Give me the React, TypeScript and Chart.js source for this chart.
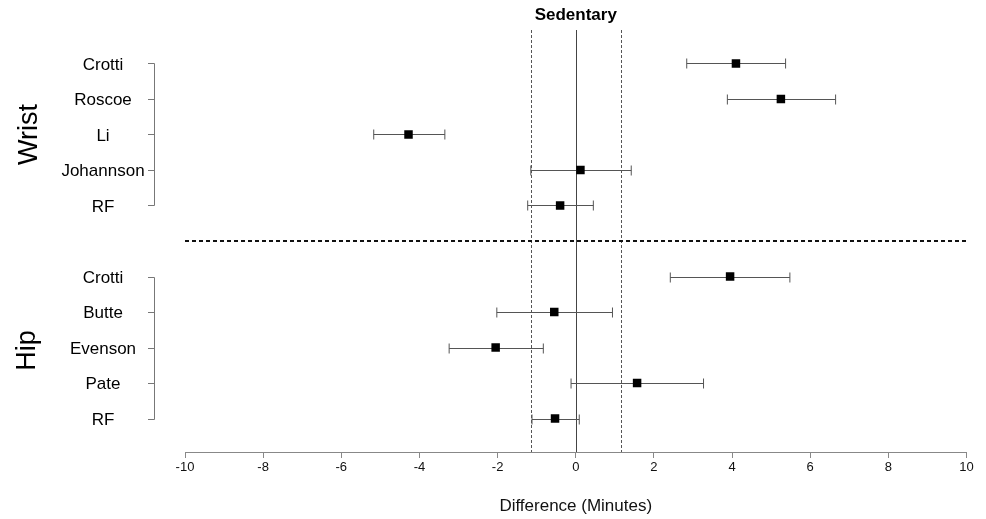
import React, { useEffect, useRef } from 'react';
import { Chart, registerables } from 'chart.js';

Chart.register(...registerables);

// ---- data ----
const chartTitle = 'Sedentary';
const xTitle = 'Difference (Minutes)';
const groupLabels = ['Wrist', 'Hip'];

const wristStudies = ['Crotti', 'Roscoe', 'Li', 'Johannson', 'RF'];
const wristEst = [4.1, 5.25, -4.28, 0.12, -0.4];
const wristLower = [2.84, 3.88, -5.17, -1.15, -1.23];
const wristUpper = [5.37, 6.65, -3.35, 1.42, 0.45];
const wristRows = [11, 10, 9, 8, 7];

const hipStudies = ['Crotti', 'Butte', 'Evenson', 'Pate', 'RF'];
const hipEst = [3.95, -0.55, -2.05, 1.57, -0.53];
const hipLower = [2.42, -2.02, -3.24, -0.12, -1.12];
const hipUpper = [5.48, 0.94, -0.83, 3.27, 0.09];
const hipRows = [5, 4, 3, 2, 1];

const separatorRow = 6;
const refLines = [-1.15, 1.15];
const xMin = -10;
const xMax = 10;
const xStep = 2;

const FONT = "'Liberation Sans', Arial, sans-serif";

const groups = [
  { label: groupLabels[0], studies: wristStudies, est: wristEst, lo: wristLower, hi: wristUpper, rows: wristRows, lx: 36.5, dy: 0 },
  { label: groupLabels[1], studies: hipStudies, est: hipEst, lo: hipLower, hi: hipUpper, rows: hipRows, lx: 34.5, dy: 3 },
];

const forestPlugin = {
  id: 'forest',
  beforeDatasetsDraw(chart: any) {
    const { ctx, chartArea, scales } = chart;
    const x = scales.x;
    const y = scales.y;
    ctx.save();
    // reference dashed lines
    ctx.strokeStyle = '#555';
    ctx.lineWidth = 1;
    ctx.setLineDash([3, 2]);
    refLines.forEach((v) => {
      const px = Math.round(x.getPixelForValue(v)) + 0.5;
      ctx.beginPath();
      ctx.moveTo(px, chartArea.top);
      ctx.lineTo(px, chartArea.bottom);
      ctx.stroke();
    });
    // zero line
    ctx.setLineDash([]);
    ctx.strokeStyle = '#444';
    const zx = Math.round(x.getPixelForValue(0)) + 0.5;
    ctx.beginPath();
    ctx.moveTo(zx, chartArea.top);
    ctx.lineTo(zx, chartArea.bottom);
    ctx.stroke();
    // separator
    ctx.strokeStyle = '#111';
    ctx.lineWidth = 2;
    ctx.setLineDash([4, 3]);
    const sy = Math.round(y.getPixelForValue(separatorRow));
    ctx.beginPath();
    ctx.moveTo(x.getPixelForValue(xMin), sy);
    ctx.lineTo(x.getPixelForValue(xMax), sy);
    ctx.stroke();
    ctx.setLineDash([]);
    // error bars
    ctx.strokeStyle = '#555';
    ctx.lineWidth = 1;
    groups.forEach((g) => {
      g.rows.forEach((r, i) => {
        const py = Math.round(y.getPixelForValue(r)) + 0.5;
        const x1 = x.getPixelForValue(g.lo[i]);
        const x2 = x.getPixelForValue(g.hi[i]);
        ctx.beginPath();
        ctx.moveTo(x1, py);
        ctx.lineTo(x2, py);
        ctx.moveTo(x1, py - 5);
        ctx.lineTo(x1, py + 5);
        ctx.moveTo(x2, py - 5);
        ctx.lineTo(x2, py + 5);
        ctx.stroke();
      });
    });
    ctx.restore();
  },
  afterDraw(chart: any) {
    const { ctx, scales } = chart;
    const x = scales.x;
    const y = scales.y;
    ctx.save();
    // title
    ctx.fillStyle = '#000';
    ctx.font = `bold 17px ${FONT}`;
    ctx.textAlign = 'center';
    ctx.textBaseline = 'middle';
    ctx.fillText(chartTitle, x.getPixelForValue(0), 15);
    groups.forEach((g) => {
      // study labels
      ctx.font = `17px ${FONT}`;
      ctx.fillStyle = '#000';
      ctx.textAlign = 'center';
      ctx.textBaseline = 'middle';
      g.rows.forEach((r, i) => {
        ctx.fillText(g.studies[i], 103, y.getPixelForValue(r) + 1.5);
      });
      // bracket
      ctx.strokeStyle = '#777';
      ctx.lineWidth = 1;
      const top = Math.round(y.getPixelForValue(g.rows[0])) + 0.5;
      const bot = Math.round(y.getPixelForValue(g.rows[g.rows.length - 1])) + 0.5;
      ctx.beginPath();
      ctx.moveTo(154.5, top);
      ctx.lineTo(154.5, bot);
      g.rows.forEach((r) => {
        const py = Math.round(y.getPixelForValue(r)) + 0.5;
        ctx.moveTo(148, py);
        ctx.lineTo(154.5, py);
      });
      ctx.stroke();
      // group label
      const mid = y.getPixelForValue((g.rows[0] + g.rows[g.rows.length - 1]) / 2) + g.dy;
      ctx.save();
      ctx.translate(g.lx, mid);
      ctx.rotate(-Math.PI / 2);
      ctx.font = `27px ${FONT}`;
      ctx.textAlign = 'center';
      ctx.textBaseline = 'alphabetic';
      ctx.fillStyle = '#000';
      ctx.fillText(g.label, 0, 0);
      ctx.restore();
    });
    ctx.restore();
  },
};

export default function App() {
  const ref = useRef<HTMLCanvasElement>(null);
  useEffect(() => {
    if (!ref.current) return;
    const pts = groups.flatMap((g) => g.rows.map((r, i) => ({ x: g.est[i], y: r })));
    const chart = new Chart(ref.current, {
      type: 'scatter',
      data: {
        datasets: [
          {
            data: pts,
            pointStyle: 'rect',
            pointRadius: 6,
            pointBackgroundColor: '#000',
            pointBorderWidth: 0,
          } as any,
        ],
      },
      options: {
        responsive: false,
        animation: false,
        layout: { padding: { left: 185, right: 19.5, top: 30, bottom: 0 } },
        plugins: { legend: { display: false }, tooltip: { enabled: false }, title: { display: false } },
        scales: {
          x: {
            type: 'linear',
            min: xMin,
            max: xMax,
            ticks: {
              stepSize: xStep,
              color: '#111',
              font: { family: FONT, size: 13 },
              padding: 2,
            },
            grid: { drawOnChartArea: false, drawTicks: true, tickLength: 6, color: '#888' },
            border: { display: true, color: '#888', width: 1 },
            title: {
              display: true,
              text: xTitle,
              color: '#111',
              font: { family: FONT, size: 17 },
              padding: { top: 0, bottom: 2 },
            },
            afterFit: (axis: any) => {
              axis.height = 67;
            },
          },
          y: { type: 'linear', min: 0.06, max: 11.94, display: false },
        },
      },
      plugins: [forestPlugin],
    });
    return () => chart.destroy();
  }, []);
  return (
    <div style={{ position: 'absolute', left: 0, top: 0, width: 986, height: 519, background: '#fff' }}>
      <canvas ref={ref} width={986} height={519} style={{ display: 'block' }} />
    </div>
  );
}
